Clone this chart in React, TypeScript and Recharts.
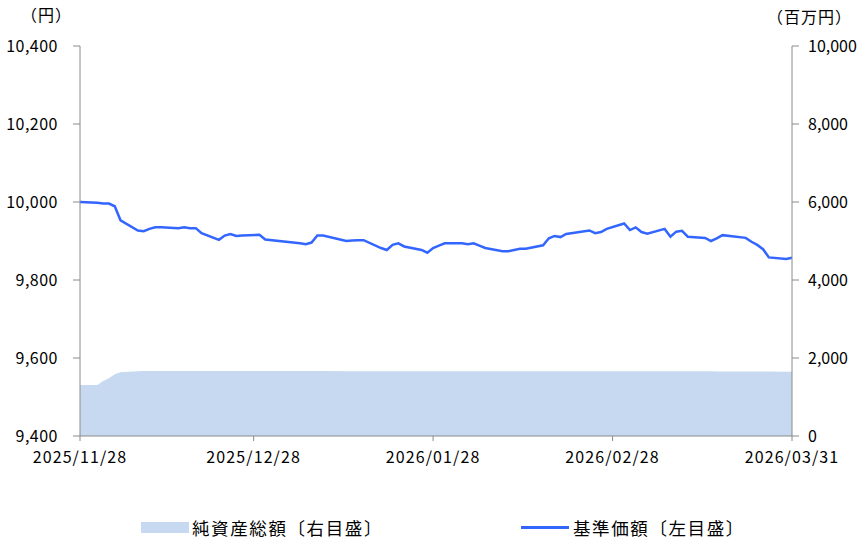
import React from 'react';
import { ComposedChart, Area, Line, XAxis, YAxis } from 'recharts';

// business days (Tokyo), net asset value (yen) and total net assets (million yen)
const dates = [
  '2025-11-28', '2025-12-01', '2025-12-02', '2025-12-03', '2025-12-04', '2025-12-05',
  '2025-12-08', '2025-12-09', '2025-12-10', '2025-12-11', '2025-12-12',
  '2025-12-15', '2025-12-16', '2025-12-17', '2025-12-18', '2025-12-19',
  '2025-12-22', '2025-12-23', '2025-12-24', '2025-12-25', '2025-12-26',
  '2025-12-29', '2025-12-30', '2026-01-05', '2026-01-06', '2026-01-07', '2026-01-08', '2026-01-09',
  '2026-01-13', '2026-01-14', '2026-01-15', '2026-01-16',
  '2026-01-19', '2026-01-20', '2026-01-21', '2026-01-22', '2026-01-23',
  '2026-01-26', '2026-01-27', '2026-01-28', '2026-01-29', '2026-01-30',
  '2026-02-02', '2026-02-03', '2026-02-04', '2026-02-05', '2026-02-06',
  '2026-02-09', '2026-02-10', '2026-02-12', '2026-02-13',
  '2026-02-16', '2026-02-17', '2026-02-18', '2026-02-19', '2026-02-20',
  '2026-02-24', '2026-02-25', '2026-02-26', '2026-02-27',
  '2026-03-02', '2026-03-03', '2026-03-04', '2026-03-05', '2026-03-06',
  '2026-03-09', '2026-03-10', '2026-03-11', '2026-03-12', '2026-03-13',
  '2026-03-16', '2026-03-17', '2026-03-18', '2026-03-19',
  '2026-03-23', '2026-03-24', '2026-03-25', '2026-03-26', '2026-03-27',
  '2026-03-30', '2026-03-31',
];

const navs = [
  10000, 9998, 9996, 9996, 9989, 9953,
  9927, 9925, 9931, 9935, 9935,
  9933, 9935, 9933, 9933, 9920,
  9903, 9914, 9918, 9913, 9914,
  9916, 9904, 9894, 9892, 9896, 9914, 9914,
  9900, 9901, 9902, 9902,
  9882, 9877, 9890, 9894, 9886,
  9877, 9870, 9882, 9888, 9894,
  9894, 9892, 9894, 9888, 9882,
  9874, 9874, 9880, 9880,
  9889, 9907, 9913, 9910, 9918,
  9927, 9920, 9923, 9931,
  9945, 9928, 9935, 9923, 9919,
  9931, 9911, 9924, 9926, 9911,
  9908, 9900, 9907, 9915,
  9908, 9898, 9890, 9879, 9858,
  9854, 9857,
];

const assets = [
  1308, 1308, 1410, 1480, 1582, 1633,
  1662, 1667, 1667, 1667, 1667,
  1667, 1667, 1667, 1667, 1666,
  1666, 1666, 1666, 1666, 1665,
  1665, 1665, 1664, 1664, 1664, 1664, 1664,
  1663, 1663, 1663, 1663,
  1662, 1662, 1662, 1662, 1662,
  1661, 1661, 1661, 1661, 1661,
  1660, 1660, 1660, 1660, 1660,
  1660, 1660, 1660, 1660,
  1660, 1660, 1661, 1661, 1661,
  1661, 1661, 1661, 1661,
  1661, 1660, 1660, 1660, 1660,
  1659, 1659, 1659, 1659, 1658,
  1658, 1658, 1657, 1657,
  1656, 1655, 1654, 1653, 1652,
  1650, 1650,
];

const xTickDates = ['2025-11-28', '2025-12-28', '2026-01-28', '2026-02-28', '2026-03-31'];
const xTickLabels = ['2025/11/28', '2025/12/28', '2026/01/28', '2026/02/28', '2026/03/31'];
const navTicks = [9400, 9600, 9800, 10000, 10200, 10400];
const assetTicks = [0, 2000, 4000, 6000, 8000, 10000];

const navName = '基準価額〔左目盛〕';
const assetName = '純資産総額〔右目盛〕';

const DAY = 24 * 60 * 60 * 1000;
const toDay = (d: string) => Math.round((Date.parse(d) - Date.parse(dates[0])) / DAY);

const data = dates.map((d, i) => ({ day: toDay(d), nav: navs[i], assets: assets[i] }));
const xTicks = xTickDates.map(toDay);

const FONT = '"Noto Sans CJK JP", "Noto Sans", sans-serif';
const AXIS = '#8a8a8a';
const LINE = '#3366ff';
const FILL = '#c6d9f0';

const fmt = (v: number) => v.toLocaleString('en-US');
const tickStyle = { fill: '#000', fontSize: 16, fontFamily: FONT, letterSpacing: 0.5 };

export default function App() {
  return (
    <div style={{ position: 'absolute', left: 0, top: 0, width: 859, height: 544, background: '#fff', fontFamily: FONT }}>
      <ComposedChart width={859} height={544} data={data} margin={{ top: 46, right: 0, bottom: 68, left: 0 }}>
        <XAxis
          dataKey="day"
          type="number"
          domain={[0, xTicks[xTicks.length - 1]]}
          ticks={xTicks}
          tickFormatter={(v: number) => xTickLabels[xTicks.indexOf(v)] ?? ''}
          height={40}
          stroke={AXIS}
          tickSize={5}
          tickMargin={11}
          tick={{ ...tickStyle, letterSpacing: 1.1 }}
          interval={0}
        />
        <YAxis
          yAxisId="left"
          domain={[9400, 10400]}
          ticks={navTicks}
          tickFormatter={fmt}
          width={80}
          stroke={AXIS}
          tickSize={7}
          tickMargin={15}
          tick={tickStyle}
          interval={0}
        />
        <YAxis
          yAxisId="right"
          orientation="right"
          domain={[0, 10000]}
          ticks={assetTicks}
          tickFormatter={fmt}
          width={67}
          stroke={AXIS}
          tickSize={7}
          tickMargin={9}
          tick={{ ...tickStyle, letterSpacing: 0, textAnchor: 'start' }}
          interval={0}
        />
        <Area
          yAxisId="right"
          dataKey="assets"
          type="linear"
          fill={FILL}
          fillOpacity={1}
          stroke="none"
          isAnimationActive={false}
        />
        <Line
          yAxisId="left"
          dataKey="nav"
          type="linear"
          stroke={LINE}
          strokeWidth={2.5}
          dot={false}
          isAnimationActive={false}
        />
      </ComposedChart>

      {/* axis units */}
      <div style={{ position: 'absolute', left: 21, top: 2, fontSize: 16, letterSpacing: 1, color: '#000' }}>（円）</div>
      <div style={{ position: 'absolute', left: 767, top: 4, fontSize: 16, letterSpacing: 1, color: '#000', whiteSpace: 'nowrap' }}>（百万円）</div>

      {/* legend */}
      <div style={{ position: 'absolute', left: 141, top: 515, display: 'flex', alignItems: 'center', fontSize: 17.5, letterSpacing: 1.6, color: '#000', whiteSpace: 'nowrap' }}>
        <span style={{ display: 'inline-block', width: 48, height: 11, background: FILL, marginRight: 3 }} />
        <span>{assetName}</span>
      </div>
      <div style={{ position: 'absolute', left: 521, top: 515, display: 'flex', alignItems: 'center', fontSize: 17.5, letterSpacing: 1.6, color: '#000', whiteSpace: 'nowrap' }}>
        <span style={{ display: 'inline-block', width: 48, height: 3, background: LINE, marginRight: 4 }} />
        <span>{navName}</span>
      </div>
    </div>
  );
}
